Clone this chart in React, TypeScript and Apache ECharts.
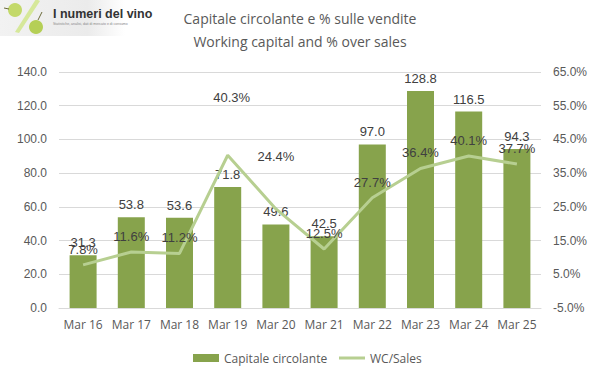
import React, { useEffect, useRef } from "react";
import * as echarts from "echarts";

const categories = ["Mar 16", "Mar 17", "Mar 18", "Mar 19", "Mar 20", "Mar 21", "Mar 22", "Mar 23", "Mar 24", "Mar 25"];
const workingCapital = [31.3, 53.8, 53.6, 71.8, 49.6, 42.5, 97.0, 128.8, 116.5, 94.3];
const wcOverSales = [7.8, 11.6, 11.2, 40.3, 24.4, 12.5, 27.7, 36.4, 40.1, 37.7];
const titleLines = ["Capitale circolante e % sulle vendite", "Working capital and % over sales"];

const TXT = "#595959";
const LBL = "#404040";
const BAR = "#87a34c";
const LINE = "#b7cf91";

export default function App() {
  const ref = useRef<HTMLDivElement>(null);
  useEffect(() => {
    if (!ref.current) return;
    const chart = echarts.init(ref.current, null, { renderer: "svg" });
    const lineData = wcOverSales.map((v, i) => {
      if (i === 3) return { value: v, label: { offset: [4, -42] } };
      if (i === 4) return { value: v, label: { offset: [0, -37] } };
      return v;
    });
    chart.setOption({
      animation: false,
      backgroundColor: "#ffffff",
      textStyle: { fontFamily: "Liberation Sans, Arial, sans-serif" },
      graphic: [
        {
          type: "rect",
          shape: { x: 0, y: 0, width: 125, height: 36 },
          style: {
            fill: new echarts.graphic.LinearGradient(0, 0, 1, 0, [
              { offset: 0, color: "#f2f2f2" },
              { offset: 0.7, color: "#ebebeb" },
              { offset: 1, color: "#ffffff" },
            ]),
          },
          silent: true,
        },
        { type: "polygon", shape: { points: [[15, 32], [19, 33], [40, 1], [36, -1]] }, style: { fill: "#d6e89a" } },
        { type: "circle", shape: { cx: 15, cy: 10, r: 7 }, style: { fill: "#c3d96a" } },
        { type: "line", shape: { x1: 4, y1: 8, x2: 9, y2: 9 }, style: { stroke: "#6b6b3a", lineWidth: 1 } },
        { type: "circle", shape: { cx: 36, cy: 27, r: 7 }, style: { fill: "#b5cf56" } },
        { type: "line", shape: { x1: 38, y1: 20, x2: 42, y2: 12 }, style: { stroke: "#6b6b3a", lineWidth: 1 } },
        {
          type: "text",
          x: 53,
          y: 7,
          style: { text: "I numeri del vino", fontSize: 12.5, fontWeight: "bold", fill: "#333333", fontFamily: "Liberation Sans Narrow, Liberation Sans, Arial" },
        },
        {
          type: "text",
          x: 53,
          y: 22,
          style: { text: "Statistiche, analisi, dati di mercato e di consumo", fontSize: 3.5, fill: "#888888" },
        },
        {
          type: "text",
          x: 300,
          y: 18,
          style: { text: titleLines[0], fontSize: 14, fontFamily: "Open Sans", fill: TXT, align: "center", verticalAlign: "middle" },
        },
        {
          type: "text",
          x: 300,
          y: 41,
          style: { text: titleLines[1], fontSize: 14, fontFamily: "Open Sans", fill: TXT, align: "center", verticalAlign: "middle" },
        },
      ],
      legend: [
        {
          top: 347,
          left: 188,
          itemWidth: 26,
          itemHeight: 8,
          textStyle: { fontFamily: "Open Sans", fontSize: 12, color: TXT },
          data: [{ name: "Capitale circolante", icon: "rect" }],
        },
        {
          top: 347,
          left: 334,
          itemWidth: 26,
          itemHeight: 3,
          textStyle: { fontFamily: "Open Sans", fontSize: 12, color: TXT },
          data: [{ name: "WC/Sales", icon: "rect", itemStyle: { color: LINE } }],
        },
      ],
      grid: { left: 59, right: 60, top: 72, bottom: 70 },
      xAxis: {
        type: "category",
        data: categories,
        axisLine: { lineStyle: { color: "#d9d9d9" } },
        axisTick: { show: false },
        axisLabel: { color: TXT, fontSize: 12, fontFamily: "Open Sans", margin: 10, interval: 0 },
      },
      yAxis: [
        {
          type: "value",
          min: 0,
          max: 140,
          interval: 20,
          axisLabel: { color: TXT, fontSize: 12, formatter: (v: number) => v.toFixed(1), margin: 12 },
          splitLine: { lineStyle: { color: "#d9d9d9" } },
          axisLine: { show: false },
          axisTick: { show: false },
        },
        {
          type: "value",
          min: -5,
          max: 65,
          interval: 10,
          axisLabel: { color: TXT, fontSize: 12, formatter: (v: number) => v.toFixed(1) + "%", margin: 12 },
          splitLine: { show: false },
          axisLine: { show: false },
          axisTick: { show: false },
        },
      ],
      series: [
        {
          name: "Capitale circolante",
          type: "bar",
          data: workingCapital,
          barWidth: 27,
          itemStyle: { color: BAR },
          label: {
            show: true,
            position: "top",
            distance: 6,
            fontSize: 13,
            color: LBL,
            formatter: (p: any) => Number(p.value).toFixed(1),
          },
        },
        {
          name: "WC/Sales",
          type: "line",
          yAxisIndex: 1,
          data: lineData,
          symbol: "circle",
          symbolSize: 0.1,
          showSymbol: true,
          lineStyle: { color: LINE, width: 3 },
          itemStyle: { color: LINE },
          label: {
            show: true,
            position: "top",
            distance: 9,
            fontSize: 13,
            color: LBL,
            formatter: (p: any) => Number(p.value).toFixed(1) + "%",
          },
          z: 3,
        },
      ],
    });
    return () => chart.dispose();
  }, []);
  return <div ref={ref} style={{ position: "absolute", left: 0, top: 0, width: 601, height: 378 }} />;
}
